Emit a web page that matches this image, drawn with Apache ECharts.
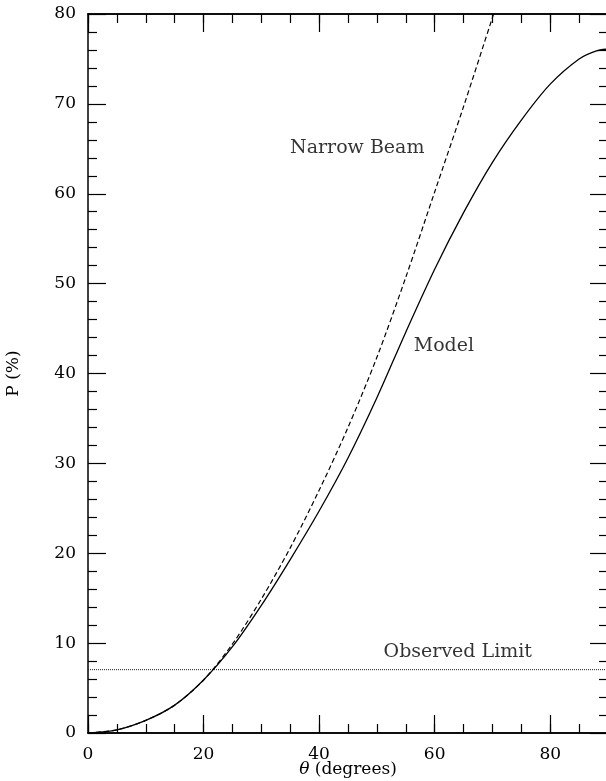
<!DOCTYPE html>
<html>
<head>
<meta charset="utf-8">
<script src="https://cdn.jsdelivr.net/npm/echarts@6/dist/echarts.min.js"></script>
<style>
html,body{margin:0;padding:0;background:#fff;}
#chart{width:606px;height:781px;}
</style>
</head>
<body>
<div id="chart"></div>
<script>
// Data
var thetaModel = [0, 5, 10, 15, 20, 25, 30, 35, 40, 45, 50, 55, 60, 65, 70, 75, 80, 85, 88, 90];
var pModel     = [0, 0.35, 1.4, 3.1, 5.9, 9.6, 14.2, 19.3, 24.7, 30.6, 37.3, 44.6, 51.6, 57.9, 63.5, 68.2, 72.2, 75.0, 75.9, 76.1];

var thetaNarrow = [0, 5, 10, 15, 20, 25, 30, 35, 40, 45, 50, 55, 60, 65, 70, 70.2];
var pNarrow     = [0, 0.35, 1.4, 3.1, 5.9, 9.9, 14.9, 20.6, 27.0, 34.0, 41.8, 50.7, 60.2, 69.7, 79.6, 80.0];

var limitTheta = [0, 90];
var limitP     = [7.05, 7.05];

var labelTexts = ['Narrow Beam', 'Model', 'Observed Limit'];
var labelTheta = [46.6, 61.6, 64.0];
var labelP     = [65.1, 43.0, 9.0];

function pairs(xs, ys) { return xs.map(function (x, i) { return [x, ys[i]]; }); }

var FONT = 'DejaVu Serif';
var chart = echarts.init(document.getElementById('chart'), null, {renderer: 'canvas'});

function xAx(pos, interval, tickLen, showLabel, extra) {
  var a = {
    type: 'value', position: pos, min: 0, max: 90, interval: interval,
    axisLine: {show: true, onZero: false, lineStyle: {color: '#000', width: 1.5}},
    axisTick: {show: true, inside: true, length: tickLen, lineStyle: {color: '#000', width: 1.2}},
    axisLabel: {show: showLabel, showMaxLabel: false, color: '#000', fontFamily: FONT, fontSize: 17, margin: 13},
    splitLine: {show: false}
  };
  return Object.assign(a, extra || {});
}
function yAx(pos, showLabel, extra) {
  var a = {
    type: 'value', position: pos, min: 0, max: 80, interval: 10,
    axisLine: {show: true, onZero: false, lineStyle: {color: '#000', width: 1.5}},
    axisTick: {show: true, inside: true, length: 18, lineStyle: {color: '#000', width: 1.2}},
    minorTick: {show: true, splitNumber: 5, length: 9, lineStyle: {color: '#000', width: 1.2}},
    axisLabel: {show: showLabel, color: '#000', fontFamily: FONT, fontSize: 17, margin: 12},
    splitLine: {show: false}
  };
  return Object.assign(a, extra || {});
}

var option = {
  backgroundColor: '#fff',
  animation: false,
  grid: {left: 88, width: 520, top: 14, height: 719, containLabel: false, outerBoundsMode: 'none'},
  xAxis: [
    xAx('bottom', 20, 18, true, {
      name: '{i|θ} (degrees)', nameLocation: 'middle', nameGap: 28, nameMoveOverlap: false,
      nameTextStyle: {color: '#000', fontFamily: FONT, fontSize: 17,
        rich: {i: {fontStyle: 'italic', fontFamily: FONT, fontSize: 17, color: '#000'}}}
    }),
    xAx('bottom', 5, 9, false),
    xAx('top', 20, 18, false),
    xAx('top', 5, 9, false)
  ],
  yAxis: [
    yAx('left', true, {
      name: 'P (%)', nameLocation: 'middle', nameGap: 66, nameRotate: 90,
      nameTextStyle: {color: '#000', fontFamily: FONT, fontSize: 17}
    }),
    yAx('right', false)
  ],
  series: [
    {
      type: 'line', xAxisIndex: 0, yAxisIndex: 0, smooth: 0.3, symbol: 'none',
      data: pairs(thetaModel, pModel),
      lineStyle: {color: '#000', width: 1.3}
    },
    {
      type: 'line', xAxisIndex: 0, yAxisIndex: 0, smooth: 0.3, symbol: 'none',
      data: pairs(thetaNarrow, pNarrow),
      lineStyle: {color: '#000', width: 1.2, type: [5, 3]}
    },
    {
      type: 'line', xAxisIndex: 0, yAxisIndex: 0, symbol: 'none',
      data: pairs(limitTheta, limitP),
      lineStyle: {color: '#222', width: 1, type: [1, 1]}
    },
    {
      type: 'scatter', xAxisIndex: 0, yAxisIndex: 0, symbolSize: 0,
      data: labelTexts.map(function (t, i) { return {value: [labelTheta[i], labelP[i]], name: t}; }),
      label: {show: true, position: 'inside', formatter: '{b}', color: '#000',
        fontFamily: FONT, fontSize: 19}
    }
  ]
};
chart.setOption(option);
</script>
</body>
</html>
